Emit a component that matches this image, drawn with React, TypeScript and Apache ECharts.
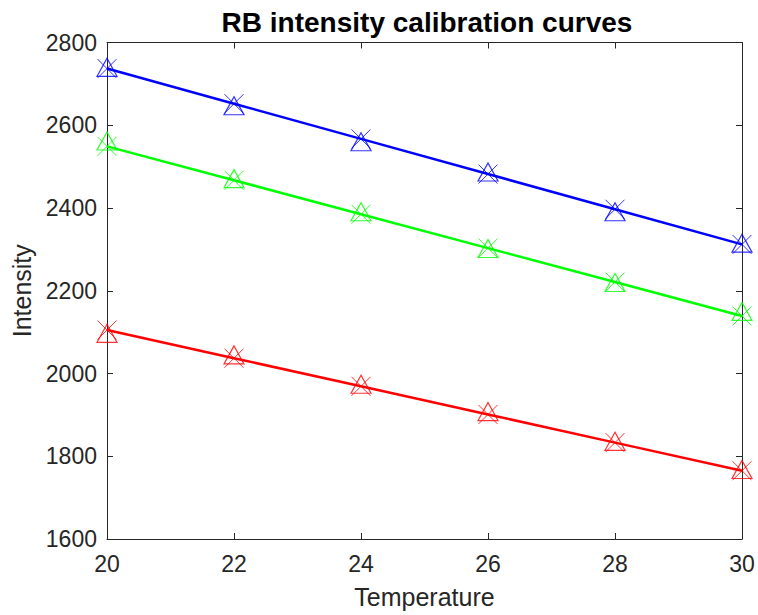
import React, { useEffect, useRef } from "react";
import * as echarts from "echarts";

const temperatures = [20, 22, 24, 26, 28, 30];
const blueMeasured = [2740, 2647, 2560, 2487, 2391, 2315];
const blueFit = [2737, 2652, 2567, 2482, 2397, 2312];
const greenMeasured = [2562, 2471, 2391, 2302, 2220, 2150];
const greenFit = [2549, 2467, 2385, 2303, 2221, 2139];
const redMeasured = [2097, 2045, 1974, 1908, 1836, 1768];
const redFit = [2105, 2037, 1969, 1901, 1833, 1765];

const xTicks = { min: 20, max: 30, interval: 2 };
const yTicks = { min: 1600, max: 2800, interval: 200 };

const AXIS_COLOR = "#262626";
const FONT = "'Liberation Sans', Arial, Helvetica, sans-serif";
const X_SYMBOL = "path://M0 0L20 20M20 0L0 20";

const pairs = (ys: number[]) => temperatures.map((t, i) => [t, ys[i]]);

export default function App() {
  const ref = useRef<HTMLDivElement>(null);
  useEffect(() => {
    document.body.style.margin = "0";
    const chart = echarts.init(ref.current!, null, { renderer: "svg" });
    const groups = [
      { c: "#0000ff", m: blueMeasured, f: blueFit },
      { c: "#00ff00", m: greenMeasured, f: greenFit },
      { c: "#ff0000", m: redMeasured, f: redFit },
    ];
    const series: any[] = [];
    groups.forEach((g) => {
      series.push({
        type: "line",
        data: pairs(g.f),
        symbol: "none",
        clip: false,
        color: g.c,
        lineStyle: { color: g.c, width: 2.5 },
        z: 4,
      });
      series.push({
        type: "scatter",
        data: pairs(g.f),
        symbol: X_SYMBOL,
        symbolSize: 19,
        clip: false,
        color: g.c,
        itemStyle: { color: "rgba(255,255,255,0)", borderColor: g.c, borderWidth: 1 },
        z: 5,
      });
      series.push({
        type: "scatter",
        data: pairs(g.m),
        symbol: "triangle",
        symbolSize: [20, 18],
        clip: false,
        color: g.c,
        itemStyle: { color: "rgba(255,255,255,0)", borderColor: g.c, borderWidth: 1.2 },
        z: 6,
      });
    });
    const axisCommon = {
      axisLine: { show: true, lineStyle: { color: AXIS_COLOR, width: 1 } },
      axisTick: { show: true, inside: true, length: 6, lineStyle: { color: AXIS_COLOR } },
      splitLine: { show: false },
      z: 1,
    };
    chart.setOption({
      animation: false,
      backgroundColor: "#ffffff",
      title: {
        text: "RB intensity calibration curves",
        left: 422,
        textAlign: "center",
        top: 3,
        textStyle: { fontFamily: FONT, fontSize: 28, fontWeight: "bold", color: "#000000" },
      },
      grid: { left: 107, right: 16, top: 42.5, bottom: 76 },
      xAxis: [
        {
          type: "value",
          position: "bottom",
          ...xTicks,
          ...axisCommon,
          axisLabel: { fontFamily: FONT, fontSize: 23, color: AXIS_COLOR, margin: 13 },
          name: "Temperature",
          nameLocation: "middle",
          nameGap: 45,
          nameTextStyle: { fontFamily: FONT, fontSize: 25, color: AXIS_COLOR },
        },
        {
          type: "value",
          position: "top",
          ...xTicks,
          ...axisCommon,
          axisLabel: { show: false },
        },
      ],
      yAxis: [
        {
          type: "value",
          position: "left",
          ...yTicks,
          ...axisCommon,
          axisLabel: {
            fontFamily: FONT,
            fontSize: 23,
            color: AXIS_COLOR,
            margin: 10,
            formatter: (v: number) => String(v),
          },
          name: "Intensity",
          nameLocation: "middle",
          nameGap: 72,
          nameTextStyle: { fontFamily: FONT, fontSize: 25, color: AXIS_COLOR },
        },
        {
          type: "value",
          position: "right",
          ...yTicks,
          ...axisCommon,
          axisLabel: { show: false },
        },
      ],
      series,
    });
    return () => chart.dispose();
  }, []);
  return <div ref={ref} style={{ width: 758, height: 615 }} />;
}
